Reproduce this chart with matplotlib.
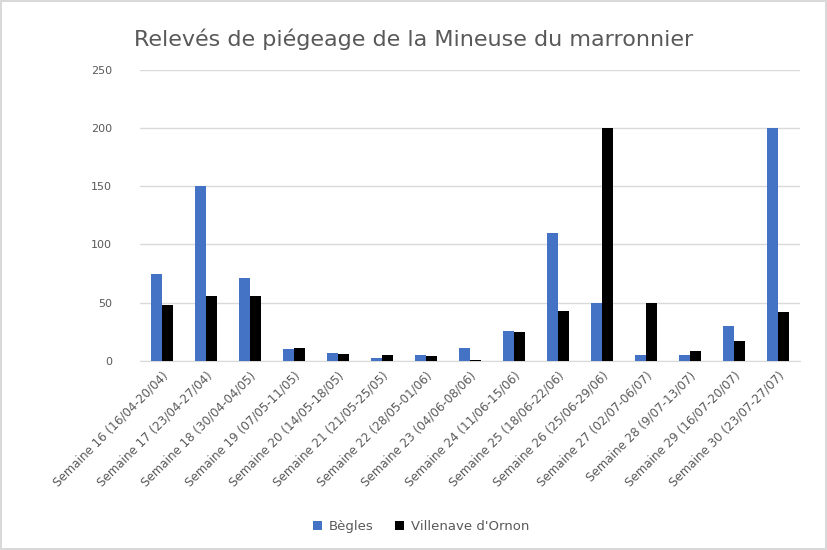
import matplotlib
matplotlib.use("Agg")
import matplotlib.pyplot as plt
import numpy as np

# Données
semaines = [
    "Semaine 16 (16/04-20/04)", "Semaine 17 (23/04-27/04)", "Semaine 18 (30/04-04/05)",
    "Semaine 19 (07/05-11/05)", "Semaine 20 (14/05-18/05)", "Semaine 21 (21/05-25/05)",
    "Semaine 22 (28/05-01/06)", "Semaine 23 (04/06-08/06)", "Semaine 24 (11/06-15/06)",
    "Semaine 25 (18/06-22/06)", "Semaine 26 (25/06-29/06)", "Semaine 27 (02/07-06/07)",
    "Semaine 28 (9/07-13/07)", "Semaine 29 (16/07-20/07)", "Semaine 30 (23/07-27/07)",
]
begles = [75, 150, 71, 10, 7, 2, 5, 11, 26, 110, 50, 5, 5, 30, 200]
villenave = [48, 56, 56, 11, 6, 5, 4, 1, 25, 43, 200, 50, 8, 17, 42]
yticks = [0, 50, 100, 150, 200, 250]

fig = plt.figure(figsize=(8.27, 5.5), dpi=100)
fig.patch.set_edgecolor("#d9d9d9")
fig.patch.set_linewidth(1.5)
ax = fig.add_axes([0.169, 0.344, 0.798, 0.529])

x = np.arange(len(semaines))
w = 0.25
ax.bar(x - w / 2, begles, w, color="#4472C4", label="Bègles", zorder=3)
ax.bar(x + w / 2, villenave, w, color="#000000", label="Villenave d'Ornon", zorder=3)

ax.set_xlim(-0.5, len(semaines) - 0.5)
ax.set_ylim(0, 250)
ax.set_yticks(yticks)
ax.grid(axis="y", color="#d9d9d9", linewidth=1, zorder=0)
for s in ["top", "right", "left"]:
    ax.spines[s].set_visible(False)
ax.spines["bottom"].set_color("#d9d9d9")
ax.tick_params(axis="both", length=0, colors="#595959", labelsize=8)
ax.tick_params(axis="y", pad=20)
ax.tick_params(axis="x", pad=6)
ax.set_xticks(x)
ax.set_xticklabels(semaines, rotation=45, ha="right", rotation_mode="anchor", fontsize=8.6)

fig.text(0.5, 0.928, "Relevés de piégeage de la Mineuse du marronnier",
         ha="center", va="center", fontsize=16, color="#595959")

fig.legend(loc="center", bbox_to_anchor=(0.509, 0.042), ncol=2, frameon=False,
           fontsize=9.5, labelcolor="#595959", handlelength=0.7, handleheight=0.7,
           handletextpad=0.5, columnspacing=1.6)

fig.savefig("out.png", dpi=100, edgecolor=fig.get_edgecolor())
